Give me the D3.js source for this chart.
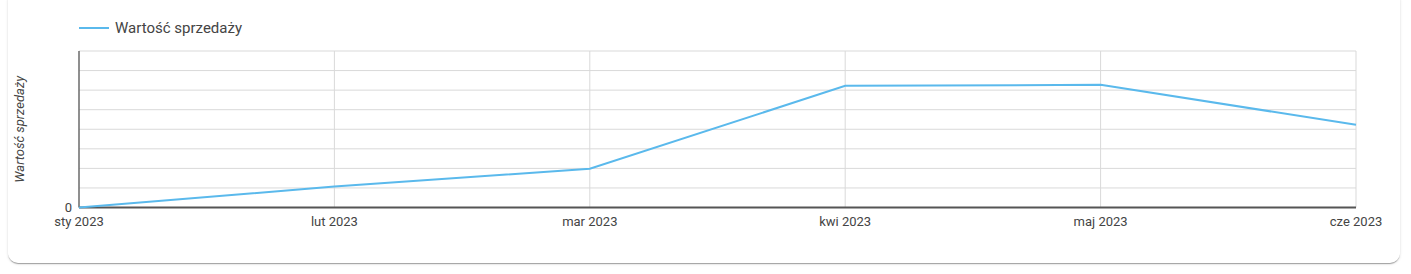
<!DOCTYPE html>
<html>
<head>
<meta charset="utf-8">
<script src="https://cdn.jsdelivr.net/npm/d3@7"></script>
<style>
  html, body { margin: 0; padding: 0; background: #fff; }
  body { width: 1411px; height: 274px; overflow: hidden; font-family: Roboto, "Noto Sans", sans-serif; }
  .card {
    position: absolute; left: 8px; top: -10px; width: 1392px; height: 273px;
    background: #fff; border-radius: 10px;
    box-shadow: 0 2px 1px -1px rgba(0,0,0,0.2), 0 1px 1px 0 rgba(0,0,0,0.14), 0 1px 3px 0 rgba(0,0,0,0.12);
  }
  svg { position: absolute; left: 0; top: 0; }
</style>
</head>
<body>
<div class="card"></div>
<svg id="chart" width="1411" height="274"></svg>
<script>
// data
var months = ["sty 2023", "lut 2023", "mar 2023", "kwi 2023", "maj 2023", "cze 2023"];
var sales = [0, 1070, 1980, 6220, 6270, 4230];
var yTicks = [0, 1000, 2000, 3000, 4000, 5000, 6000, 7000, 8000];
var seriesName = "Wartość sprzedaży";

var margin = { left: 79, right: 1356, top: 51, bottom: 207.5 };
var lineColor = "#5ab9ec";
var textColor = "#444";

var svg = d3.select("#chart");

var x = d3.scalePoint().domain(months).range([margin.left, margin.right]);
var y = d3.scaleLinear().domain([0, 8000]).range([margin.bottom, margin.top]);

// horizontal grid
svg.append("g")
  .selectAll("line")
  .data(yTicks)
  .enter()
  .append("line")
  .attr("x1", margin.left)
  .attr("x2", margin.right)
  .attr("y1", d => y(d))
  .attr("y2", d => y(d))
  .attr("stroke", "#d9d9d9")
  .attr("stroke-width", 1);

// vertical grid
svg.append("g")
  .selectAll("line")
  .data(months)
  .enter()
  .append("line")
  .attr("x1", d => x(d))
  .attr("x2", d => x(d))
  .attr("y1", margin.top)
  .attr("y2", margin.bottom)
  .attr("stroke", "#d9d9d9")
  .attr("stroke-width", 1);

// axes lines
svg.append("line")
  .attr("x1", margin.left).attr("x2", margin.left)
  .attr("y1", margin.top).attr("y2", margin.bottom)
  .attr("stroke", "#333").attr("stroke-width", 1);

svg.append("line")
  .attr("x1", margin.left).attr("x2", margin.right)
  .attr("y1", y(0)).attr("y2", y(0))
  .attr("stroke", "#555").attr("stroke-width", 2);

// x labels
svg.append("g")
  .selectAll("text")
  .data(months)
  .enter()
  .append("text")
  .attr("x", d => x(d))
  .attr("y", 226)
  .attr("text-anchor", "middle")
  .attr("font-size", 13)
  .attr("fill", textColor)
  .text(d => d);

// only zero label on y
svg.append("text")
  .attr("x", 72)
  .attr("y", y(0) + 4)
  .attr("text-anchor", "end")
  .attr("font-size", 13)
  .attr("fill", textColor)
  .text("0");

// y title
svg.append("text")
  .attr("transform", "translate(24," + (margin.top + margin.bottom) / 2 + ") rotate(-90)")
  .attr("text-anchor", "middle")
  .attr("font-size", 13)
  .attr("font-style", "italic")
  .attr("fill", textColor)
  .text(seriesName);

// the series
var line = d3.line()
  .x((d, i) => x(months[i]))
  .y(d => y(d));

svg.append("path")
  .datum(sales)
  .attr("d", line)
  .attr("fill", "none")
  .attr("stroke", lineColor)
  .attr("stroke-width", 2);

// legend
svg.append("line")
  .attr("x1", 79).attr("x2", 109)
  .attr("y1", 28).attr("y2", 28)
  .attr("stroke", lineColor).attr("stroke-width", 2);

svg.append("text")
  .attr("x", 115)
  .attr("y", 33)
  .attr("font-size", 15)
  .attr("fill", textColor)
  .text(seriesName);
</script>
</body>
</html>
